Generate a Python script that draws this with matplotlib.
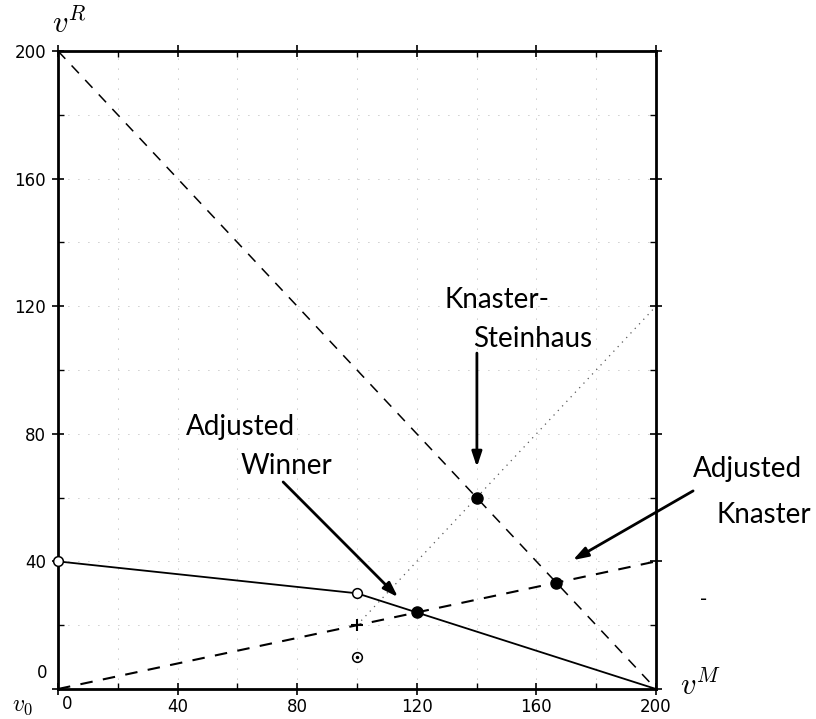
import numpy as np
import matplotlib.pyplot as plt

plt.rcParams['mathtext.fontset'] = 'cm'

# lines of the picture
ks_x = [0, 200]          # Knaster-Steinhaus line  x + y = 200
ks_y = [200, 0]
ak_x = [0, 200]          # Adjusted Knaster line
ak_y = [0, 40]
aw_x = [0, 100, 200]     # Adjusted Winner line
aw_y = [40, 30, 0]
dg_x = [100, 200]        # dotted diagonal
dg_y = [20, 120]

# points
full_x = [120, 166.7, 140]
full_y = [24, 33.3, 60]
open_x = [100, 0]
open_y = [30, 40]
dot_x = [100]
dot_y = [10]
plus_x = [100]
plus_y = [20]

ticks = [0, 40, 80, 120, 160, 200]
tick_labels = ['', '40', '80', '120', '160', '200']

fig = plt.figure(figsize=(8.16, 7.19), dpi=100)
ax = fig.add_axes([58/816, 1-689/719, 598/816, 638/719])
ax.set_xlim(0, 200)
ax.set_ylim(0, 200)

# sparse dotted grid
for g in range(20, 200, 20):
    ax.axhline(g, color='0.6', lw=0.6, ls=(0, (1, 11)), zorder=0)
    ax.axvline(g, color='0.6', lw=0.6, ls=(0, (1, 11)), zorder=0)

ax.plot(ks_x, ks_y, color='k', lw=1.1, ls=(0, (7, 6)))
ax.plot(ak_x, ak_y, color='k', lw=1.5, ls=(0, (6, 5)))
ax.plot(aw_x, aw_y, color='k', lw=1.3)
ax.plot(dg_x, dg_y, color='0.35', lw=0.9, ls=(0, (1, 4)))

ax.plot(full_x, full_y, 'o', color='k', ms=8, zorder=5)
ax.plot(open_x, open_y, 'o', mfc='white', mec='k', mew=1.1, ms=7, zorder=5, clip_on=False)
ax.plot(dot_x, dot_y, 'o', mfc='white', mec='k', mew=1.1, ms=7, zorder=5)
ax.plot(dot_x, dot_y, 'o', color='k', ms=1.5, zorder=6)
ax.plot(plus_x, plus_y, '+', color='k', ms=9, mew=1.5, zorder=5)

# axes look
for s in ax.spines.values():
    s.set_linewidth(2)
ax.set_xticks(ticks)
ax.set_yticks(ticks)
ax.set_xticklabels(tick_labels)
ax.set_yticklabels(tick_labels)
ax.set_xticks(range(20, 200, 40), minor=True)
ax.set_yticks(range(20, 200, 40), minor=True)
ax.tick_params(which='major', direction='inout', length=9, width=1.2, labelsize=12,
               top=True, right=True, pad=4)
ax.tick_params(which='minor', direction='in', length=4, width=1.0, top=True, right=True)
ax.tick_params(axis='x', pad=2)

# the two zero labels sit off their ticks
ax.text(-3.5, 5, '0', ha='right', va='center', fontsize=12)
ax.text(3, -2, '0', ha='center', va='top', fontsize=12)

ax.text(-2, 205.5, r'$v^R$', fontsize=22, ha='left', va='baseline')
ax.text(208, -2, r'$v^M$', fontsize=22, ha='left', va='baseline')
ax.text(-15.5, -7, r'$v_0$', fontsize=17, ha='left', va='baseline')
ax.text(216, 28, '-', fontsize=14, ha='center', va='center')

lab = dict(fontsize=20, family='Lato', ha='left', va='baseline')
ax.text(129.4, 119.4, 'Knaster-', **lab)
ax.text(138.8, 107.2, 'Steinhaus', **lab)
ax.text(42.8, 79.6, 'Adjusted', **lab)
ax.text(60.9, 67.4, 'Winner', **lab)
ax.text(212.4, 66.5, 'Adjusted', clip_on=False, **lab)
ax.text(220.4, 52.0, 'Knaster', clip_on=False, **lab)

arrow = dict(arrowstyle='-|>,head_length=0.9,head_width=0.3', color='k', lw=2,
             shrinkA=0, shrinkB=0)
ax.annotate('', xy=(140.1, 69.6), xytext=(140.1, 105.3), arrowprops=arrow)
ax.annotate('', xy=(113.7, 28.8), xytext=(75.3, 64.9), arrowprops=arrow)
ax.annotate('', xy=(172.2, 40.4), xytext=(212.4, 62.1), arrowprops=arrow,
            annotation_clip=False)

fig.savefig('out.png', dpi=100)
